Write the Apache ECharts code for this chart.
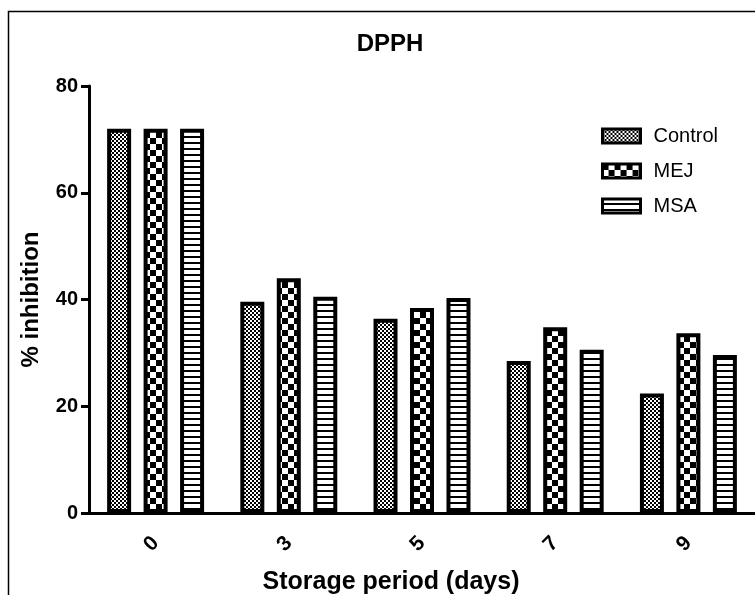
<!DOCTYPE html>
<html>
<head>
<meta charset="utf-8">
<script src="https://cdn.jsdelivr.net/npm/echarts@6/dist/echarts.min.js"></script>
<style>
  html, body { margin: 0; padding: 0; background: #fff; }
  #chart { width: 755px; height: 595px; }
</style>
</head>
<body>
<div id="chart"></div>
<script>
// Storage days on the x axis and % inhibition per treatment
const days = ['0', '3', '5', '7', '9'];
const control = [72.0, 39.6, 36.4, 28.5, 22.4];
const mej = [72.0, 44.0, 38.4, 34.8, 33.7];
const msa = [72.0, 40.5, 40.3, 30.6, 29.6];
const yTicks = [0, 20, 40, 60, 80];

const FONT = '"Liberation Sans", Arial, sans-serif';

// Monochrome fill patterns for the bars
function makePattern(kind) {
  const c = document.createElement('canvas');
  const ctx = c.getContext('2d');
  if (kind === 'fine') {
    c.width = 4; c.height = 4;
    ctx.fillStyle = '#fff'; ctx.fillRect(0, 0, 4, 4);
    ctx.fillStyle = '#000';
    ctx.fillRect(0, 0, 2, 2); ctx.fillRect(2, 2, 2, 2);
  } else if (kind === 'coarse') {
    c.width = 12; c.height = 12;
    ctx.fillStyle = '#fff'; ctx.fillRect(0, 0, 12, 12);
    ctx.fillStyle = '#000';
    ctx.fillRect(0, 0, 6, 6); ctx.fillRect(6, 6, 6, 6);
  } else {
    c.width = 6; c.height = 6;
    ctx.fillStyle = '#fff'; ctx.fillRect(0, 0, 6, 6);
    ctx.fillStyle = '#000';
    ctx.fillRect(0, 4, 6, 2);
  }
  return { image: c, repeat: 'repeat' };
}

function barSeries(name, values, kind) {
  return {
    name: name,
    type: 'bar',
    data: values,
    barWidth: 24,
    barGap: '52%',
    itemStyle: {
      color: makePattern(kind),
      borderColor: '#000',
      borderWidth: 4
    },
    emphasis: { disabled: true }
  };
}

const chart = echarts.init(document.getElementById('chart'), null, { renderer: 'canvas' });

chart.setOption({
  animation: false,
  backgroundColor: '#fff',
  title: [
    {
      text: 'DPPH',
      left: 385,
      textAlign: 'center',
      top: 27,
      textStyle: { fontFamily: FONT, fontWeight: 'bold', fontSize: 24, color: '#000' }
    },
    {
      // x axis title, centred under the plot as drawn
      text: 'Storage period (days)',
      left: 386,
      textAlign: 'center',
      top: 565,
      textStyle: { fontFamily: FONT, fontWeight: 'bold', fontSize: 25, color: '#000' }
    }
  ],
  legend: {
    orient: 'vertical',
    left: 596,
    top: 121,
    itemWidth: 38,
    itemHeight: 14,
    itemGap: 15,
    icon: 'rect',
    selectedMode: false,
    itemStyle: { borderWidth: 3, borderColor: '#000' },
    textStyle: { fontFamily: FONT, fontSize: 20, color: '#000', padding: [0, 0, 0, 8] },
    data: ['Control', 'MEJ', 'MSA']
  },
  grid: { left: 89, top: 86, width: 671, height: 427, containLabel: false },
  xAxis: {
    type: 'category',
    data: days,
    axisLine: { lineStyle: { color: '#000', width: 3 } },
    axisTick: { alignWithLabel: true, length: 9, lineStyle: { color: '#000', width: 3 } },
    axisLabel: {
      rotate: 45,
      margin: 27,
      fontFamily: FONT, fontWeight: 'bold', fontSize: 21, color: '#000'
    }
  },
  yAxis: {
    type: 'value',
    min: yTicks[0],
    max: yTicks[yTicks.length - 1],
    interval: yTicks[1] - yTicks[0],
    name: '% inhibition',
    nameLocation: 'middle',
    nameRotate: 90,
    nameGap: 46,
    nameTextStyle: { fontFamily: FONT, fontWeight: 'bold', fontSize: 24, color: '#000' },
    splitLine: { show: false },
    axisLine: { show: true, lineStyle: { color: '#000', width: 3 } },
    axisTick: { show: true, length: 8, lineStyle: { color: '#000', width: 3 } },
    axisLabel: { margin: 11, fontFamily: FONT, fontWeight: 'bold', fontSize: 20, color: '#000' }
  },
  graphic: [
    {
      type: 'rect',
      shape: { x: 8.5, y: 11.5, width: 800, height: 700 },
      style: { fill: 'none', stroke: '#000', lineWidth: 1.5 },
      silent: true,
      z: 100
    }
  ],
  series: [
    barSeries('Control', control, 'fine'),
    barSeries('MEJ', mej, 'coarse'),
    barSeries('MSA', msa, 'stripe')
  ]
});
</script>
</body>
</html>
